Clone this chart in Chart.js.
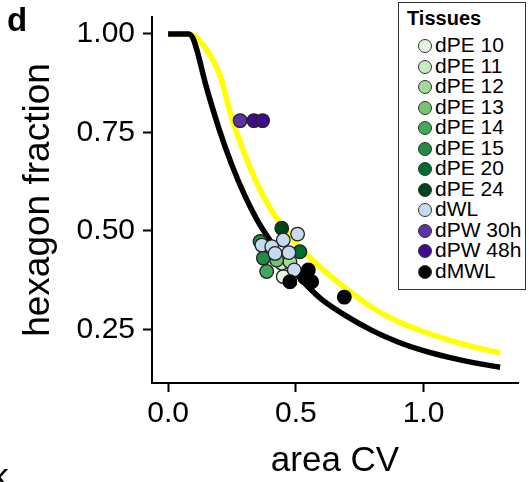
<!DOCTYPE html>
<html>
<head>
<meta charset="utf-8">
<script src="https://cdn.jsdelivr.net/npm/chart.js"></script>
<style>
  body { margin: 0; background: #fff; }
  #wrap { position: relative; width: 529px; height: 482px; overflow: hidden; font-family: "Liberation Sans", Arial, sans-serif; color: #000; }
  #chart { position: absolute; left: 0; top: 0; }
  .tag { position: absolute; line-height: 1; white-space: nowrap; }
  #legend { position: absolute; left: 398px; top: 2px; width: 128px; height: 288px; border: 1px solid #333; box-sizing: border-box; background: #fff; }
  #legend .title { position: absolute; left: 8px; top: 5px; font-size: 20px; font-weight: bold; line-height: 1; }
  #legend .row { position: absolute; left: 0; height: 20px; }
  #legend .dot { position: absolute; left: 19px; top: 3px; width: 12px; height: 12px; border-radius: 50%; border: 1.3px solid #333; }
  #legend .lbl { position: absolute; left: 36px; top: -2px; font-size: 21px; line-height: 1; white-space: nowrap; }
</style>
</head>
<body>
<div id="wrap">
  <canvas id="chart" width="529" height="482"></canvas>
  <div class="tag" style="left:7px; top:3px; font-size:33px; font-weight:bold;">d</div>
  <div class="tag" style="left:-9px; top:458px; font-size:35px;">k</div>
  <div id="legend"></div>
</div>
<script>
// model curves (area CV -> hexagon fraction)
const blackX = [0, 0.08, 0.1, 0.15, 0.2, 0.25, 0.3, 0.35, 0.4, 0.45, 0.5, 0.55, 0.6, 0.7, 0.8, 0.9, 1.0, 1.1, 1.2, 1.3];
const blackY = [1.0, 1.0, 0.985, 0.865, 0.758, 0.667, 0.59, 0.526, 0.475, 0.43, 0.392, 0.357, 0.327, 0.283, 0.247, 0.218, 0.196, 0.179, 0.165, 0.154];
const yellowX = [0, 0.08, 0.12, 0.2, 0.25, 0.3, 0.35, 0.4, 0.45, 0.5, 0.55, 0.6, 0.7, 0.8, 0.9, 1.0, 1.1, 1.2, 1.3];
const yellowY = [1.0, 1.0, 0.985, 0.9, 0.785, 0.695, 0.618, 0.557, 0.51, 0.47, 0.435, 0.405, 0.352, 0.305, 0.27, 0.244, 0.223, 0.205, 0.19];

// measured tissues, [area CV, hexagon fraction]
const tissues = ["dPE 10", "dPE 11", "dPE 12", "dPE 13", "dPE 14", "dPE 15", "dPE 20", "dPE 24", "dWL", "dPW 30h", "dPW 48h", "dMWL"];
const dPE10 = [[0.451, 0.384]];
const dPE11 = [[0.445, 0.418]];
const dPE12 = [[0.477, 0.422]];
const dPE13 = [[0.425, 0.426]];
const dPE14 = [[0.386, 0.397]];
const dPE15 = [[0.373, 0.431], [0.36, 0.473]];
const dPE20 = [[0.516, 0.447]];
const dPE24 = [[0.445, 0.507]];
const dWL = [[0.507, 0.492], [0.367, 0.464], [0.451, 0.477], [0.406, 0.46], [0.419, 0.443], [0.473, 0.445], [0.494, 0.401]];
const dPW30h = [[0.282, 0.78]];
const dPW48h = [[0.336, 0.78], [0.37, 0.78]];
const dMWL = [[0.477, 0.371], [0.549, 0.401], [0.562, 0.371], [0.536, 0.381], [0.69, 0.332]];
const tissuePoints = [dPE10, dPE11, dPE12, dPE13, dPE14, dPE15, dPE20, dPE24, dWL, dPW30h, dPW48h, dMWL];

const tissueColors = ["#e5f5e0", "#c7e9c0", "#a1d99b", "#74c476", "#41ab5d", "#238b45", "#006d2c", "#00441b", "#c6dbef", "#5a33a4", "#3f0c8e", "#000000"];

const xTicks = [0, 0.5, 1.0];
const xTickLabels = ["0.0", "0.5", "1.0"];
const yTicks = [0.25, 0.5, 0.75, 1.0];
const yTickLabels = ["0.25", "0.50", "0.75", "1.00"];

const FONT = "'Liberation Sans', Arial, sans-serif";

function toXY(xs, ys)
{
    let out = [];
    for (let i = 0; i < xs.length; i++) out.push({ x: xs[i], y: ys[i] });
    return out;
}

let datasets = [];
datasets.push({
    label: "yellow model", data: toXY(yellowX, yellowY), showLine: true,
    borderColor: "#ffff00", borderWidth: 5.5, pointRadius: 0, fill: false,
    cubicInterpolationMode: "monotone", order: 100
});
datasets.push({
    label: "black model", data: toXY(blackX, blackY), showLine: true,
    borderColor: "#000000", borderWidth: 5.5, pointRadius: 0, fill: false,
    cubicInterpolationMode: "monotone", order: 90
});
// greens below, then dWL, purples and dMWL on top
for (let i = 0; i < tissues.length; i++)
{
    datasets.push({
        label: tissues[i],
        data: tissuePoints[i].map(p => ({ x: p[0], y: p[1] })),
        backgroundColor: tissueColors[i],
        borderColor: i == tissues.length - 1 ? "#000" : "#222",
        borderWidth: 1.3,
        pointRadius: 6.8,
        order: 50 - i
    });
}

function fixedTicks(vals)
{
    return function (scale) { scale.ticks = vals.map(v => ({ value: v })); };
}

const chart = new Chart(document.getElementById("chart"), {
    type: "scatter",
    data: { datasets: datasets },
    options: {
        responsive: false,
        animation: false,
        devicePixelRatio: 1,
        layout: { padding: { top: 17, right: 11, bottom: 0, left: 0 } },
        plugins: { legend: { display: false }, tooltip: { enabled: false } },
        scales: {
            x: {
                type: "linear", min: -0.063, max: 1.37,
                afterBuildTicks: fixedTicks(xTicks),
                afterFit: function (s) { s.height = 99; s.paddingLeft = 0; s.paddingRight = 0; },
                ticks: {
                    autoSkip: false, maxRotation: 0, padding: 4, color: "#000",
                    font: { family: FONT, size: 30 },
                    callback: function (v, i) { return xTickLabels[i]; }
                },
                grid: { drawOnChartArea: false, drawTicks: true, tickLength: 9, tickWidth: 2, tickColor: "#000" },
                border: { display: true, color: "#000", width: 2 },
                title: { display: true, text: "area CV", color: "#000", font: { family: FONT, size: 35 }, padding: { top: 0, bottom: 0 } }
            },
            y: {
                type: "linear", min: 0.114, max: 1.043,
                afterBuildTicks: fixedTicks(yTicks),
                afterFit: function (s) { s.width = 152; s.paddingTop = 0; s.paddingBottom = 0; },
                ticks: {
                    autoSkip: false, padding: 8, color: "#000",
                    font: { family: FONT, size: 30 },
                    callback: function (v, i) { return yTickLabels[i]; }
                },
                grid: { drawOnChartArea: false, drawTicks: true, tickLength: 9, tickWidth: 2, tickColor: "#000" },
                border: { display: true, color: "#000", width: 2 },
                title: { display: true, text: "hexagon fraction", color: "#000", font: { family: FONT, size: 37 }, padding: { top: 17, bottom: 0 } }
            }
        }
    }
});

// legend box, built from the tissue lists
function buildLegend()
{
    let box = document.getElementById("legend");
    let html = '<div class="title">Tissues</div>';
    for (let i = 0; i < tissues.length; i++)
    {
        let top = 33 + i * 20.5;
        html += '<div class="row" style="top:' + top + 'px">' +
            '<span class="dot" style="background:' + tissueColors[i] + '"></span>' +
            '<span class="lbl">' + tissues[i] + '</span></div>';
    }
    box.innerHTML = html;
}
buildLegend();
</script>
</body>
</html>
